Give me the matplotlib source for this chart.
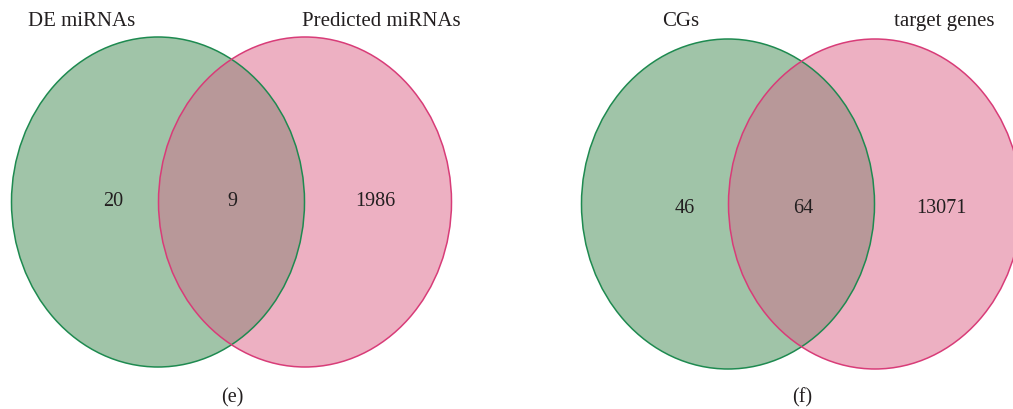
import matplotlib.pyplot as plt
from matplotlib.patches import Ellipse

GREEN_FILL = "#a0c4a8"
GREEN_EDGE = "#1e8a50"
PINK_FILL = "#edb0c2"
PINK_EDGE = "#d83c78"
OVERLAP_FILL = "#b89899"
TEXT_COLOR = "#231f20"

# data for the two panels
panel_tags = ["(e)", "(f)"]
left_sets = ["DE miRNAs", "CGs"]
right_sets = ["Predicted miRNAs", "target genes"]
left_only = [20, 46]
shared = [9, 64]
right_only = [1986, 13071]

# layout in pixels (figure is 1013 x 410), text placed by baseline
centers_left = [(158, 203), (728, 205)]
centers_right = [(305, 203), (875, 205)]
ELL_W, ELL_H = 293, 330
number_x = [(113, 232, 375), (685, 803, 941)]
number_base = [206, 213]
label_x = [(82, 381), (681, 944)]
LABEL_BASE = 26
tag_x = [232, 802]
TAG_BASE = 402


def draw_venn(ax, i):
    (gx, gy), (px, py) = centers_left[i], centers_right[i]
    green = Ellipse((gx, gy), ELL_W, ELL_H, facecolor=GREEN_FILL, edgecolor="none")
    pink = Ellipse((px, py), ELL_W, ELL_H, facecolor=PINK_FILL, edgecolor="none")
    ax.add_patch(green)
    ax.add_patch(pink)
    overlap = Ellipse((px, py), ELL_W, ELL_H, facecolor=OVERLAP_FILL, edgecolor="none")
    ax.add_patch(overlap)
    overlap.set_clip_path(green)
    ax.add_patch(Ellipse((gx, gy), ELL_W, ELL_H, facecolor="none",
                         edgecolor=GREEN_EDGE, linewidth=1.1))
    ax.add_patch(Ellipse((px, py), ELL_W, ELL_H, facecolor="none",
                         edgecolor=PINK_EDGE, linewidth=1.1))

    font = dict(family="Liberation Serif", color=TEXT_COLOR, ha="center", va="baseline")
    values = [left_only[i], shared[i], right_only[i]]
    for x, v in zip(number_x[i], values):
        ax.text(x, number_base[i], str(v), fontsize=14.5, **font)
    ax.text(label_x[i][0], LABEL_BASE, left_sets[i], fontsize=15, **font)
    ax.text(label_x[i][1], LABEL_BASE, right_sets[i], fontsize=15, **font)
    ax.text(tag_x[i], TAG_BASE, panel_tags[i], fontsize=14.5, **font)


def main():
    fig = plt.figure(figsize=(10.13, 4.10), dpi=100)
    ax = fig.add_axes([0, 0, 1, 1])
    ax.set_xlim(0, 1013)
    ax.set_ylim(410, 0)
    ax.axis("off")

    for i in range(2):
        draw_venn(ax, i)

    fig.savefig("out.png", dpi=100, facecolor="white")
    plt.close(fig)


if __name__ == "__main__":
    main()
